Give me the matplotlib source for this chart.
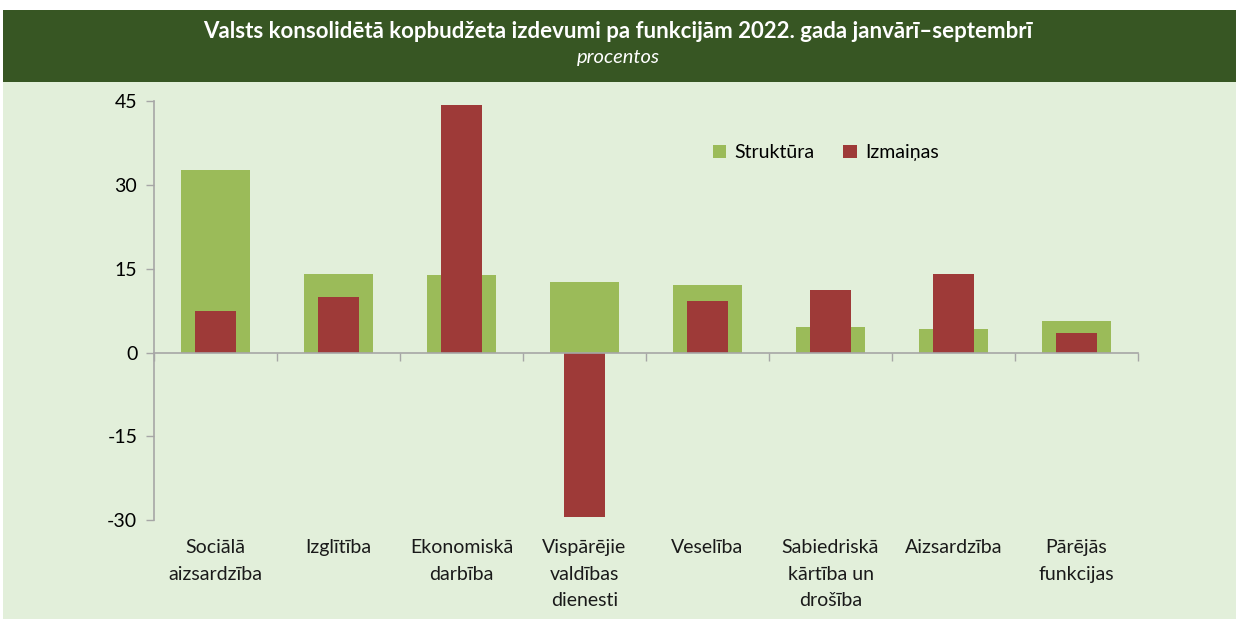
import numpy as np
import matplotlib.pyplot as plt
from matplotlib.patches import Rectangle

plt.rcParams['font.family'] = ['Lato', 'DejaVu Sans']

categories = ["Sociālā\naizsardzība", "Izglītība", "Ekonomiskā\ndarbība",
              "Vispārējie\nvaldības\ndienesti", "Veselība",
              "Sabiedriskā\nkārtība un\ndrošība", "Aizsardzība",
              "Pārējās\nfunkcijas"]
struktura = [32.7, 14.0, 13.8, 12.6, 12.1, 4.6, 4.2, 5.6]
izmainas = [7.5, 9.9, 44.2, -29.4, 9.15, 11.2, 14.0, 3.4]
y_ticks = [-30, -15, 0, 15, 30, 45]

green = "#9BBB59"
red = "#9E3A38"
bg = "#E2EFDA"
header = "#375623"
axis_col = "#A6A6A6"

W, H = 1236, 619
fig = plt.figure(figsize=(W / 100, H / 100), dpi=100)
fig.patch.set_facecolor("white")

# background panel and header band
fig.add_artist(Rectangle((3 / W, 0), 1 - 3 / W, 1 - 82 / H, transform=fig.transFigure,
                         facecolor=bg, edgecolor="none", zorder=0))
fig.add_artist(Rectangle((3 / W, 1 - 82 / H), 1 - 3 / W, 72 / H, transform=fig.transFigure,
                         facecolor=header, edgecolor="none", zorder=0))
fig.text(0.5, 1 - 31 / H, "Valsts konsolidētā kopbudžeta izdevumi pa funkcijām 2022. gada janvārī–septembrī",
         ha="center", va="center", color="white", fontsize=16, fontweight="bold")
fig.text(0.5, 1 - 58 / H, "procentos", ha="center", va="center", color="white",
         fontsize=14.5, style="italic")

ax = fig.add_axes([154 / W, 1 - 520.4 / H, (1138 - 154) / W, (520.4 - 100.7) / H])
ax.set_facecolor("none")

x = np.arange(len(categories))
ax.bar(x, struktura, width=0.56, color=green, label="Struktūra", zorder=2)
ax.bar(x, izmainas, width=0.33, color=red, label="Izmaiņas", zorder=3)

ax.set_xlim(-0.5, len(categories) - 0.5)
ax.set_ylim(-30, 45)
ax.set_yticks(y_ticks)
ax.set_yticklabels([str(v) for v in y_ticks], fontsize=14)

# category labels below the plot, ticks at category boundaries
ax.set_xticks(np.arange(len(categories) + 1) - 0.5)
ax.set_xticklabels([])
ax.tick_params(axis="x", direction="out", length=6, color=axis_col, width=1)
ax.tick_params(axis="y", direction="out", length=6, color=axis_col, width=1, pad=6)
ax.spines["bottom"].set_position(("data", 0))
for s in ["top", "right"]:
    ax.spines[s].set_visible(False)
for s in ["left", "bottom"]:
    ax.spines[s].set_color(axis_col)
    ax.spines[s].set_linewidth(1.2)
ax.spines["bottom"].set_zorder(4)

for xi, name in zip(x, categories):
    ax.text(xi, -33.3, name, ha="center", va="top", fontsize=14, linespacing=1.7,
            color="#1a1a1a")

ax.legend(loc="upper left", bbox_to_anchor=(0.55, 0.938), ncol=2, frameon=False,
          fontsize=14, handlelength=0.7, handleheight=0.7, columnspacing=1.5,
          handletextpad=0.4)

fig.savefig("out.png", dpi=100)
